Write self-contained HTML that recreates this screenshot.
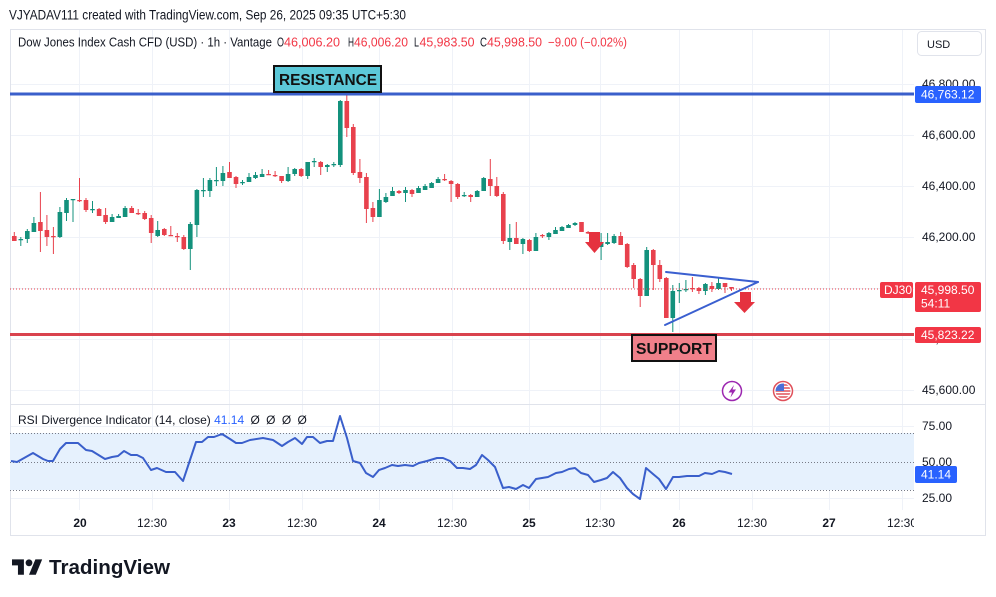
<!DOCTYPE html>
<html><head><meta charset="utf-8"><style>
html,body{margin:0;padding:0;background:#fff;width:996px;height:597px;overflow:hidden}
svg{display:block;font-family:"Liberation Sans",Arial,sans-serif}
</style></head><body>
<svg width="996" height="597" viewBox="0 0 996 597" xmlns="http://www.w3.org/2000/svg">
<defs>
<clipPath id="plot"><rect x="10" y="29" width="904" height="507"/></clipPath>
<clipPath id="flag"><circle cx="783" cy="391" r="7.5"/></clipPath>
</defs>
<rect width="996" height="597" fill="#fff"/>
<text x="9" y="19.5" font-size="13.5" fill="#131722" textLength="397" lengthAdjust="spacingAndGlyphs">VJYADAV111 created with TradingView.com, Sep 26, 2025 09:35 UTC+5:30</text>

<!-- grid -->
<g stroke="#eff2f8" stroke-width="1">
<path d="M79.5 30V510M152.5 30V510M229.5 30V510M302.5 30V510M379.5 30V510M452.5 30V510M529.5 30V510M600.5 30V510M679.5 30V510M752.5 30V510M829.5 30V510M902.5 30V510"/>
<path d="M10 84.5H914M10 135.5H914M10 186.5H914M10 237.5H914M10 288.5H914M10 339.5H914M10 390.5H914M10 426.5H914M10 498.5H914"/>
</g>
<line x1="10" y1="404.5" x2="985" y2="404.5" stroke="#e0e3eb"/>
<rect x="10.5" y="29.5" width="975" height="506" fill="none" stroke="#e0e3eb"/>

<!-- header line 2 -->
<g font-size="12.5" fill="#131722">
<text x="18" y="46.5" textLength="254" lengthAdjust="spacingAndGlyphs">Dow Jones Index Cash CFD (USD) · 1h · Vantage</text>
<text x="277" y="46.5" textLength="7" lengthAdjust="spacingAndGlyphs">O</text>
<text x="284" y="46.5" fill="#f23645" textLength="56" lengthAdjust="spacingAndGlyphs">46,006.20</text>
<text x="348" y="46.5" textLength="6" lengthAdjust="spacingAndGlyphs">H</text>
<text x="354" y="46.5" fill="#f23645" textLength="54" lengthAdjust="spacingAndGlyphs">46,006.20</text>
<text x="414" y="46.5" textLength="5" lengthAdjust="spacingAndGlyphs">L</text>
<text x="419.5" y="46.5" fill="#f23645" textLength="55" lengthAdjust="spacingAndGlyphs">45,983.50</text>
<text x="480" y="46.5" textLength="7" lengthAdjust="spacingAndGlyphs">C</text>
<text x="487" y="46.5" fill="#f23645" textLength="55" lengthAdjust="spacingAndGlyphs">45,998.50</text>
<text x="548" y="46.5" fill="#f23645" textLength="79" lengthAdjust="spacingAndGlyphs">−9.00 (−0.02%)</text>
</g>

<!-- USD button -->
<rect x="917.5" y="31.5" width="64" height="24" rx="4" fill="#fff" stroke="#e0e3eb"/>
<text x="927" y="48" font-size="11" fill="#131722">USD</text>

<!-- RSI pane -->
<rect x="10" y="433" width="904" height="57" fill="#e6f1fd"/>
<g stroke="#787b86" stroke-width="1" stroke-dasharray="1 2">
<line x1="10" y1="433.5" x2="914" y2="433.5"/>
<line x1="10" y1="462.5" x2="914" y2="462.5"/>
<line x1="10" y1="490.5" x2="914" y2="490.5"/>
</g>
<polyline fill="none" stroke="#3a5fcb" stroke-width="2" stroke-linejoin="round" points="11,461 17,462 33,453 43,459 48,461 53,461 60,449 66,443 78,443 86,450 92,451 105,459 112,457 118,456 124,451 131,455 137,455 143,458 151,470 157,468 166,472 175,472 183,481 196,442 202,442 208,437 214,437 222,434 230,439 236,443 242,443 250,440 263,438 273,440 282,446 288,442 295,438 302,444 307,437 313,437 320,443 327,441 333,441 340,416 347,438 353,461 360,463 366,473 373,477 379,470 385,468 392,465 398,466 405,465 413,466 419,463 427,461 437,458 443,458 450,461 457,468 463,468 470,469 476,465 482,455 488,460 495,467 503,488 509,487 516,489 523,485 529,488 536,479 542,478 548,477 556,473 562,472 569,469 575,468 581,473 588,475 594,482 601,480 607,478 613,472 620,478 627,488 633,494 640,499 646,468 653,474 659,479 666,489 673,477 679,477 687,476 693,476 699,476 705,473 712,474 719,471 725,472 732,474"/>
<text x="18" y="424" font-size="12" fill="#131722">RSI Divergence Indicator (14, close) <tspan fill="#2962ff">41.14</tspan> <tspan dx="3">Ø</tspan> <tspan dx="3">Ø</tspan> <tspan dx="3">Ø</tspan> <tspan dx="3">Ø</tspan></text>

<!-- candles -->
<g stroke="#13917c" fill="none">
<path stroke-width="1" d="M20.8 237V246M27.3 229V243M33.9 217V232M59.9 207V238M66.5 198V221M73 199V222M92.5 201V213M112.1 214V222M118.6 214V218M125.1 206V217M157.7 221V237M190.3 222V270M196.9 189V237M203.4 178V197M209.9 178V197M216.4 167V186M222.9 166V186M242.5 180V185M249 173V182M255.5 172V179M262.1 169V177M288.1 167V182M294.7 168V176M307.7 162V179M314.2 158V167M327.3 164V172M333.8 162V167M340.3 100V167M379.4 189V217M385.9 193V203M392.5 187V196M405.5 187V202M418.5 186V193M425.1 184V190M431.6 182V188M438.1 177V183M464.2 192V197M477.2 190V197M483.7 177V191M509.8 224V250M522.9 238V254M535.9 233V251M548.9 232V240M555.5 227V234M562 226V231M568.5 224V228M575 222V226M601.1 233V260M607.6 233V245M614.1 234V244M646.7 247V296M672.8 285V332M679.3 283V303M685.9 280V292M705.4 283V295M718.5 277V290"/>
<path stroke-width="4.6" d="M20.8 239v1.2M27.3 231v8M33.9 223v9M59.9 212v25M66.5 200v13M73 199v1.2M92.5 209v1.2M112.1 217v5M118.6 216v2M125.1 208v9M157.7 230v6M190.3 224v25M196.9 190v35M203.4 190v1.2M209.9 180v11M216.4 180v1.2M222.9 173v8M242.5 182v1.2M249 177v5M255.5 175v3M262.1 174v3M288.1 174v7M294.7 169v5M307.7 162v14M314.2 161v1.2M327.3 165v2M333.8 164v1.2M340.3 101v64M379.4 200v17M385.9 197v5M392.5 191v5M405.5 190v3M418.5 188v5M425.1 186v4M431.6 183v5M438.1 179v4M464.2 195v1.2M477.2 191v6M483.7 178v13M509.8 238v4M522.9 239v5M535.9 237v14M548.9 233v4M555.5 230v4M562 227v4M568.5 225v3M575 223v2M601.1 242v5M607.6 242v2M614.1 236v7M646.7 250v46M672.8 291v27M679.3 290v1.2M685.9 289v1.2M705.4 284v7M718.5 283v6"/>
</g>
<g stroke="#e8414d" fill="none">
<path stroke-width="1" d="M14.3 232V241M40.4 192V252M46.9 215V246M53.4 227V254M79.5 178V202M86 198V212M99.1 208V216M105.6 208V224M131.7 206V213M138.2 209V215M144.7 211V220M151.2 215V243M164.3 228V236M170.8 226V236M177.3 233V242M183.8 235V250M229.5 162V178M236 176V188M268.6 170V175M275.1 171V177M281.6 176V183M301.2 168V177M320.7 161V175M346.8 93V137M353.3 124V175M359.9 159V183M366.4 173V223M372.9 202V222M399 190V194M412 189V197M444.6 174V181M451.1 180V202M457.7 183V199M470.7 194V202M490.3 159V196M496.8 177V197M503.3 192V244M516.3 222V244M529.4 239V252M542.4 234V238M581.5 222V232M588.1 231V234M594.6 232V242M620.7 232V245M627.2 243V268M633.7 263V288M640.2 278V307M653.3 249V290M659.8 260V282M666.3 277V318M692.4 277V292M698.9 287V294M711.9 282V292M725 283V293M731.5 287V291"/>
<path stroke-width="4.6" d="M14.3 236v5M40.4 222v9M46.9 230v7M53.4 236v1.2M79.5 200v1.2M86 200v10M99.1 209v7M105.6 215v7M131.7 208v5M138.2 213v1.2M144.7 213v6M151.2 218v15M164.3 229v6M170.8 235v1.2M177.3 236v1.2M183.8 237v12M229.5 172v6M236 177v7M268.6 174v1.2M275.1 175v1.2M281.6 176v5M301.2 169v7M320.7 162v5M346.8 101v27M353.3 127v46M359.9 172v6M366.4 177v32M372.9 208v9M399 191v2M412 190v4M444.6 179v1.2M451.1 181v3M457.7 184v13M470.7 195v2M490.3 179v7M496.8 186v10M503.3 194v47M516.3 238v6M529.4 240v11M542.4 235v1.2M581.5 222v10M588.1 232v1.5M594.6 233v7M620.7 236v9M627.2 244v23M633.7 265v14M640.2 279v17M653.3 250v15M659.8 265v14M666.3 278v40M692.4 288v1.2M698.9 288v3M711.9 286v3M725 283v4M731.5 287v1.5"/>
</g>

<!-- current price dotted -->
<line x1="10" y1="289" x2="880" y2="289" stroke="#e8414d" stroke-width="1" stroke-dasharray="1 2"/>

<!-- resistance / support lines -->
<line x1="10" y1="94" x2="914" y2="94" stroke="#3a5fcb" stroke-width="3"/>
<line x1="10" y1="334.5" x2="914" y2="334.5" stroke="#d9434e" stroke-width="3"/>

<!-- triangle -->
<g stroke="#3a5fd0" stroke-width="2" fill="none" stroke-linecap="round">
<line x1="666" y1="272" x2="758" y2="282"/>
<line x1="665" y1="325" x2="758" y2="282"/>
</g>

<!-- arrows -->
<path d="M589 232H600V242H604L594.5 253L585 242H589Z" fill="#e5323f"/>
<path d="M740 292H751V302H755L744.5 313L734 302H740Z" fill="#e5323f"/>

<!-- annotation boxes -->
<rect x="274" y="66" width="107" height="26" fill="#5cc8d8" stroke="#111" stroke-width="2"/>
<text x="279" y="85" font-size="16" font-weight="bold" fill="#111" textLength="98" lengthAdjust="spacingAndGlyphs">RESISTANCE</text>
<rect x="632" y="335" width="84" height="26" fill="#f0808a" stroke="#111" stroke-width="2"/>
<text x="636" y="354" font-size="16" font-weight="bold" fill="#111" textLength="76" lengthAdjust="spacingAndGlyphs">SUPPORT</text>

<!-- icons -->
<circle cx="732" cy="391" r="9.5" fill="#fff" stroke="#9c27b0" stroke-width="1.5"/>
<path d="M734 385L728.5 392.5H732L730.5 397.5L736 389.5H732.5Z" fill="#9c27b0"/>
<circle cx="783" cy="391" r="9.5" fill="#fff" stroke="#e0505a" stroke-width="1.5"/>
<g clip-path="url(#flag)">
<rect x="775" y="383" width="16" height="16" fill="#fff"/>
<path d="M775 385h16M775 388h16M775 391h16M775 394h16M775 397h16" stroke="#e0505a" stroke-width="1.5"/>
<rect x="775" y="383" width="9" height="8" fill="#4a6fd8"/>
</g>

<!-- price axis labels -->
<g font-size="12" fill="#131722">
<text x="922" y="88">46,800.00</text>
<text x="922" y="139">46,600.00</text>
<text x="922" y="190">46,400.00</text>
<text x="922" y="241">46,200.00</text>
<text x="922" y="292">46,000.00</text>
<text x="922" y="343">45,800.00</text>
<text x="922" y="394">45,600.00</text>
<text x="922" y="430">75.00</text>
<text x="922" y="466">50.00</text>
<text x="922" y="502">25.00</text>
</g>
<rect x="915" y="86" width="66" height="17" rx="2" fill="#2962ff"/>
<text x="921" y="98.5" font-size="12" fill="#fff">46,763.12</text>
<rect x="880" y="282" width="33" height="16" rx="2" fill="#f23645"/>
<text x="884" y="294" font-size="12" fill="#fff">DJ30</text>
<rect x="915" y="282" width="66" height="30" rx="2" fill="#f23645"/>
<text x="921" y="294" font-size="12" fill="#fff">45,998.50</text>
<text x="921" y="307.5" font-size="12" fill="#fff">54:11</text>
<rect x="915" y="327" width="66" height="16" rx="2" fill="#f23645"/>
<text x="921" y="339" font-size="12" fill="#fff">45,823.22</text>
<rect x="915" y="466" width="42" height="17" rx="2" fill="#2962ff"/>
<text x="921" y="478.5" font-size="12" fill="#fff">41.14</text>

<!-- time axis -->
<g font-size="12" fill="#131722" text-anchor="middle" clip-path="url(#plot)">
<text x="80" y="527" font-weight="bold">20</text>
<text x="152" y="527">12:30</text>
<text x="229" y="527" font-weight="bold">23</text>
<text x="302" y="527">12:30</text>
<text x="379" y="527" font-weight="bold">24</text>
<text x="452" y="527">12:30</text>
<text x="529" y="527" font-weight="bold">25</text>
<text x="600" y="527">12:30</text>
<text x="679" y="527" font-weight="bold">26</text>
<text x="752" y="527">12:30</text>
<text x="829" y="527" font-weight="bold">27</text>
<text x="902" y="527">12:30</text>
</g>

<!-- logo -->
<g transform="translate(12,556) scale(0.85)" fill="#131722">
<path d="M14 22H7V11H0V4h14v18zM28 22h-8l7.5-18h8L28 22z"/>
<circle cx="20" cy="8" r="4"/>
</g>
<text x="49" y="574" font-size="20.5" font-weight="bold" fill="#131722" textLength="121" lengthAdjust="spacingAndGlyphs">TradingView</text>
</svg>
</body></html>
